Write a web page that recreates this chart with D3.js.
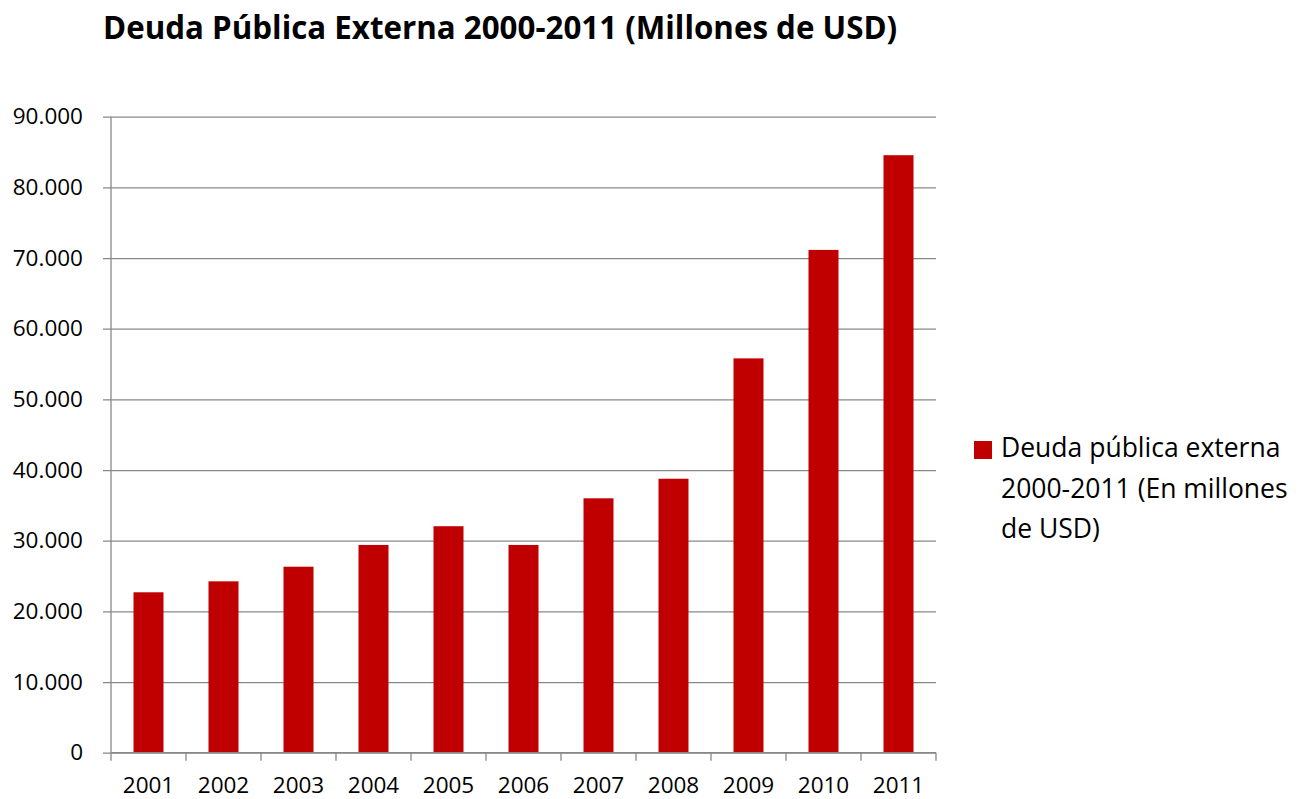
<!DOCTYPE html>
<html>
<head>
<meta charset="utf-8">
<script src="https://cdn.jsdelivr.net/npm/d3@7"></script>
<style>
  html, body { margin: 0; padding: 0; background: #ffffff; }
  svg { display: block; }
  text { font-family: "Open Sans", "Noto Sans", sans-serif; fill: #000; }
</style>
</head>
<body>
<svg id="chart" width="1307" height="799"></svg>
<script>
// Public external debt, millions of USD
const years = ["2001", "2002", "2003", "2004", "2005", "2006", "2007", "2008", "2009", "2010", "2011"];
const debt = [22700, 24250, 26320, 29400, 32050, 29400, 36000, 38770, 55800, 71150, 84550];
const yTicks = [0, 10000, 20000, 30000, 40000, 50000, 60000, 70000, 80000, 90000];
const titleText = "Deuda Pública Externa 2000-2011 (Millones de USD)";
const legendLines = ["Deuda pública externa", "2000-2011 (En millones", "de USD)"];

const barColor = "#C00000";
const gridColor = "#888888";

const svg = d3.select("#chart");

const plot = { left: 111, right: 936, top: 116.7, bottom: 752.7 };

const x = d3.scaleBand()
  .domain(years)
  .range([plot.left, plot.right])
  .paddingInner(0.6)
  .paddingOuter(0.3);

const y = d3.scaleLinear()
  .domain([0, 90000])
  .range([plot.bottom, plot.top]);

const locale = d3.formatLocale({ decimal: ",", thousands: ".", grouping: [3], currency: ["$", ""] });
const fmt = locale.format(",d");

// Title
svg.append("text")
  .attr("x", 103)
  .attr("y", 38.5)
  .attr("font-size", 31.3)
  .attr("font-weight", "bold")
  .text(titleText);

// Horizontal gridlines with left tick stubs, and value labels
const yAxis = d3.axisLeft(y)
  .tickValues(yTicks)
  .tickSize(-(plot.right - plot.left) - 8)
  .tickFormat(fmt)
  .tickPadding(20);

const gy = svg.append("g")
  .attr("transform", `translate(${plot.right},0)`)
  .call(yAxis);
gy.select(".domain").remove();
gy.selectAll(".tick line")
  .attr("x1", 0)
  .attr("x2", -(plot.right - plot.left) - 8)
  .attr("stroke", gridColor)
  .attr("stroke-width", 1.3);
gy.selectAll(".tick text")
  .attr("x", -(plot.right - plot.left) - 28)
  .attr("font-size", 22.5)
  .attr("font-family", "\"Open Sans\", sans-serif")
  .attr("fill", "#000");

// Vertical axis line
svg.append("line")
  .attr("x1", plot.left).attr("x2", plot.left)
  .attr("y1", plot.top).attr("y2", plot.bottom)
  .attr("stroke", gridColor)
  .attr("stroke-width", 1.3);

// Bars
svg.append("g")
  .selectAll("rect")
  .data(years.map((yr, i) => ({ yr, v: debt[i] })))
  .join("rect")
  .attr("x", d => x(d.yr))
  .attr("width", x.bandwidth())
  .attr("y", d => y(d.v))
  .attr("height", d => y(0) - y(d.v))
  .attr("fill", barColor);

// Category axis: boundary ticks and year labels
const gx = svg.append("g");
const bounds = years.map(yr => x(yr) - (x.step() - x.bandwidth()) / 2)
  .concat([plot.right]);
gx.append("line")
  .attr("x1", plot.left).attr("x2", plot.right)
  .attr("y1", plot.bottom).attr("y2", plot.bottom)
  .attr("stroke", gridColor)
  .attr("stroke-width", 1.3);
gx.selectAll("line.tk")
  .data(bounds)
  .join("line")
  .attr("class", "tk")
  .attr("x1", d => d).attr("x2", d => d)
  .attr("y1", plot.bottom).attr("y2", plot.bottom + 8)
  .attr("stroke", gridColor)
  .attr("stroke-width", 1.3);
gx.selectAll("text")
  .data(years)
  .join("text")
  .attr("x", d => x(d) + x.bandwidth() / 2)
  .attr("y", 793)
  .attr("text-anchor", "middle")
  .attr("font-size", 22.5)
  .text(d => d);

// Legend
const lg = svg.append("g");
lg.append("rect")
  .attr("x", 974).attr("y", 441)
  .attr("width", 18).attr("height", 18)
  .attr("fill", barColor);
lg.selectAll("text")
  .data(legendLines)
  .join("text")
  .attr("x", 1001)
  .attr("y", (d, i) => 457 + i * 40.5)
  .attr("font-size", 26.5)
  .text(d => d);
</script>
</body>
</html>
